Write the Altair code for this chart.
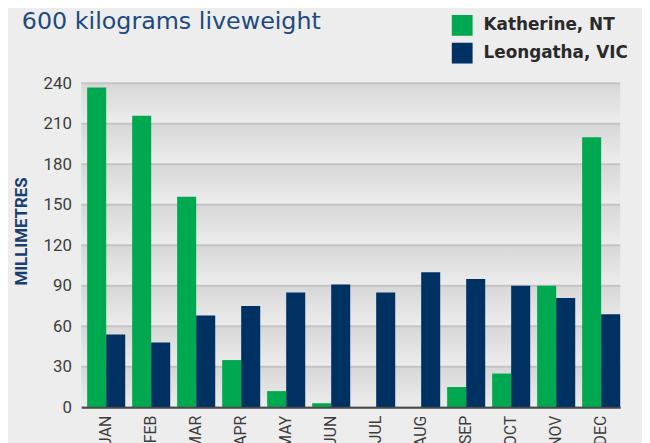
import altair as alt
import pandas as pd

months = ["JAN", "FEB", "MAR", "APR", "MAY", "JUN", "JUL", "AUG", "SEP", "OCT", "NOV", "DEC"]
katherine = [237, 216, 156, 35, 12, 3, 0, 0, 15, 25, 90, 200]
leongatha = [54, 48, 68, 75, 85, 91, 85, 100, 95, 90, 81, 69]
series = ["Katherine, NT", "Leongatha, VIC"]
colors = ["#00a94f", "#003163"]
y_ticks = [0, 30, 60, 90, 120, 150, 180, 210, 240]

rows = []
for m, k, l in zip(months, katherine, leongatha):
    rows.append({"month": m, "site": series[0], "mm": k})
    rows.append({"month": m, "site": series[1], "mm": l})
df = pd.DataFrame(rows)

bands = pd.DataFrame({"lo": y_ticks[:-1], "hi": y_ticks[1:]})
grid = pd.DataFrame({"v": y_ticks})

yscale = alt.Scale(domain=[0, 240], nice=False)

yaxis = alt.Axis(values=y_ticks, title="MILLIMETRES", grid=False, domain=False, ticks=False,
                 labelPadding=10, labelFontSize=17, labelColor="#3d3d3d", labelFont="Roboto",
                 titleFont="Roboto", titleFontSize=17, titleFontWeight="bold",
                 titleColor="#183f70", titleAngle=-90, titleAlign="center",
                 titleBaseline="middle", titleX=-60, titleY=149)

band_layer = alt.Chart(bands).mark_rect(
    fill={"gradient": "linear", "x1": 0, "y1": 0, "x2": 0, "y2": 1,
          "stops": [{"offset": 0, "color": "#d7d7d7"}, {"offset": 1, "color": "#ededed"}]}
).encode(
    x=alt.value(0), x2=alt.value("width"),
    y=alt.Y("hi:Q", scale=yscale, axis=yaxis, title="MILLIMETRES"), y2="lo:Q"
)

grid_layer = alt.Chart(grid).mark_rule(color="#c4c4c4", strokeWidth=2).encode(
    x=alt.value(0), x2=alt.value("width"),
    y=alt.Y("v:Q", scale=yscale, axis=yaxis, title="MILLIMETRES")
)

bars = alt.Chart(df).mark_bar().encode(
    x=alt.X("month:N", sort=months, title=None,
            scale=alt.Scale(paddingInner=0.154, paddingOuter=0.065, align=1),
            axis=alt.Axis(labelAngle=-90, labelPadding=8, ticks=False, domainColor="#4a4a4a",
                          domainWidth=2, zindex=1, labelFontSize=16, labelColor="#3d3d3d",
                          labelFont="Roboto")),
    xOffset=alt.XOffset("site:N", sort=series, scale=alt.Scale(paddingInner=0, paddingOuter=0)),
    y=alt.Y("mm:Q", scale=yscale, axis=yaxis, title="MILLIMETRES"),
    color=alt.Color("site:N", sort=series, scale=alt.Scale(domain=series, range=colors),
                    legend=alt.Legend(title=None, orient="none", legendX=374, legendY=-69,
                                      symbolType="square", symbolSize=441, symbolStrokeWidth=0,
                                      symbolOpacity=1, labelFontSize=17, labelFontWeight="bold",
                                      labelColor="#2a2a2a", labelFont="DejaVu Sans", labelOffset=11,
                                      rowPadding=7, padding=0))
)

chart = alt.layer(band_layer, grid_layer, bars).properties(
    width=544, height=327,
    autosize=alt.AutoSizeParams(type="none"),
    padding={"left": 74, "top": 74, "right": 22, "bottom": 34},
    background="#ededed",
    title=alt.TitleParams("600 kilograms liveweight", anchor="start", frame="group", orient="top",
                          dx=-60, offset=0, baseline="alphabetic", dy=38,
                          font="DejaVu Sans", fontSize=24, fontWeight="normal", color="#1d4a7d")
).configure_view(stroke=None)

chart.save("out.html", embed_options={"renderer": "svg", "actions": False})
